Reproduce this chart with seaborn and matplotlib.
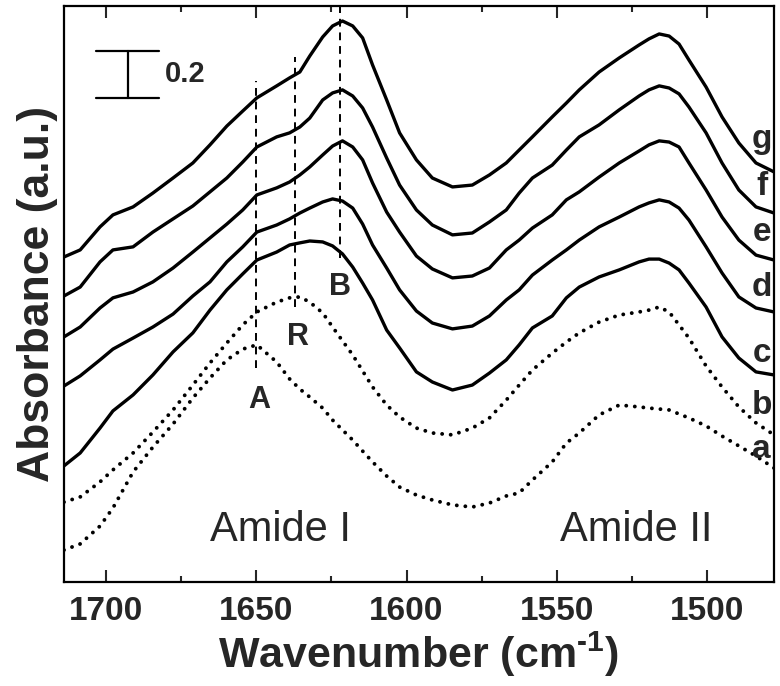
import pandas as pd
import seaborn as sns
import matplotlib.pyplot as plt
from matplotlib.ticker import MultipleLocator

# wavenumber grid (cm-1) shared by all spectra
wavenumber = [1714.0, 1708.6, 1702.0, 1697.7, 1691.0, 1684.4, 1677.7, 1671.1, 1665.4, 1659.8,
              1654.5, 1649.8, 1643.2, 1638.9, 1635.5, 1632.2, 1627.9, 1624.6, 1621.3, 1617.9,
              1614.6, 1611.3, 1606.6, 1602.3, 1596.7, 1591.4, 1584.7, 1578.1, 1572.4, 1566.8,
              1562.5, 1558.1, 1551.5, 1546.8, 1542.5, 1535.9, 1529.2, 1522.6, 1519.3, 1515.9,
              1512.6, 1509.3, 1506.0, 1500.3, 1495.0, 1489.4, 1483.7, 1477.7]

# absorbance (offset stacked), bottom to top
spec_a = [0.136, 0.162, 0.238, 0.315, 0.468, 0.574, 0.672, 0.783, 0.868, 0.945,
          0.991, 1.009, 0.936, 0.864, 0.821, 0.787, 0.740, 0.689, 0.647, 0.604,
          0.557, 0.511, 0.451, 0.404, 0.370, 0.349, 0.328, 0.319, 0.336, 0.366,
          0.379, 0.434, 0.511, 0.591, 0.634, 0.711, 0.753, 0.745, 0.740, 0.736,
          0.732, 0.715, 0.698, 0.664, 0.621, 0.579, 0.536, 0.485]
spec_b = [0.340, 0.362, 0.426, 0.477, 0.549, 0.638, 0.732, 0.838, 0.932, 1.017,
          1.094, 1.149, 1.191, 1.209, 1.213, 1.191, 1.145, 1.085, 1.026, 0.966,
          0.898, 0.830, 0.753, 0.702, 0.655, 0.634, 0.626, 0.655, 0.698, 0.774,
          0.838, 0.902, 0.974, 1.021, 1.060, 1.106, 1.136, 1.149, 1.157, 1.170,
          1.149, 1.094, 1.038, 0.919, 0.830, 0.745, 0.677, 0.626]
spec_c = [0.494, 0.549, 0.655, 0.728, 0.796, 0.881, 0.979, 1.060, 1.157, 1.243,
          1.311, 1.370, 1.404, 1.434, 1.443, 1.451, 1.447, 1.430, 1.396, 1.340,
          1.272, 1.200, 1.072, 0.996, 0.894, 0.851, 0.817, 0.838, 0.889, 0.945,
          1.009, 1.081, 1.132, 1.209, 1.255, 1.298, 1.328, 1.362, 1.374, 1.374,
          1.357, 1.328, 1.272, 1.170, 1.043, 0.953, 0.894, 0.881]
spec_d = [0.834, 0.877, 0.945, 0.991, 1.038, 1.085, 1.140, 1.217, 1.277, 1.362,
          1.426, 1.489, 1.519, 1.545, 1.570, 1.591, 1.617, 1.630, 1.621, 1.591,
          1.523, 1.434, 1.336, 1.243, 1.153, 1.102, 1.077, 1.089, 1.132, 1.200,
          1.243, 1.306, 1.370, 1.413, 1.455, 1.511, 1.553, 1.596, 1.613, 1.626,
          1.617, 1.591, 1.540, 1.426, 1.315, 1.213, 1.166, 1.149]
spec_e = [1.043, 1.085, 1.166, 1.209, 1.234, 1.277, 1.336, 1.404, 1.464, 1.523,
          1.583, 1.647, 1.677, 1.702, 1.732, 1.766, 1.817, 1.855, 1.877, 1.851,
          1.796, 1.698, 1.574, 1.489, 1.387, 1.332, 1.294, 1.302, 1.336, 1.413,
          1.455, 1.506, 1.562, 1.626, 1.660, 1.723, 1.783, 1.834, 1.860, 1.877,
          1.872, 1.851, 1.783, 1.668, 1.553, 1.455, 1.391, 1.370]
spec_f = [1.217, 1.255, 1.362, 1.413, 1.426, 1.489, 1.545, 1.600, 1.660, 1.719,
          1.787, 1.851, 1.894, 1.911, 1.936, 1.974, 2.051, 2.081, 2.094, 2.068,
          2.017, 1.936, 1.804, 1.689, 1.583, 1.519, 1.477, 1.485, 1.532, 1.583,
          1.655, 1.719, 1.774, 1.838, 1.894, 1.945, 2.009, 2.068, 2.094, 2.111,
          2.102, 2.077, 2.021, 1.911, 1.783, 1.668, 1.596, 1.570]
spec_g = [1.383, 1.413, 1.511, 1.562, 1.596, 1.655, 1.719, 1.783, 1.860, 1.940,
          2.004, 2.060, 2.111, 2.145, 2.170, 2.238, 2.319, 2.366, 2.387, 2.366,
          2.315, 2.200, 2.051, 1.911, 1.796, 1.719, 1.681, 1.689, 1.732, 1.783,
          1.838, 1.894, 1.979, 2.038, 2.094, 2.170, 2.230, 2.285, 2.311, 2.332,
          2.323, 2.289, 2.221, 2.106, 1.979, 1.868, 1.783, 1.745]

curve_names = ['a', 'b', 'c', 'd', 'e', 'f', 'g']
label_y = [0.562, 0.753, 0.974, 1.255, 1.485, 1.681, 1.881]

# marker lines A, R, B: position and vertical extent
band_names = ['A', 'R', 'B']
band_pos = [1650, 1637, 1622]
band_lo = [0.911, 1.170, 1.379]
band_hi = [2.132, 2.234, 2.451]
band_text_x = [1649, 1636, 1622]
band_text_y = [0.774, 1.043, 1.255]

df = pd.DataFrame({'wavenumber': wavenumber, 'a': spec_a, 'b': spec_b, 'c': spec_c,
                   'd': spec_d, 'e': spec_e, 'f': spec_f, 'g': spec_g})

sns.set_style('white')
plt.rcParams['font.family'] = ['Liberation Sans', 'DejaVu Sans']
plt.rcParams['mathtext.fontset'] = 'custom'
plt.rcParams['mathtext.rm'] = 'Liberation Sans:bold'
plt.rcParams['mathtext.bf'] = 'Liberation Sans:bold'

fig = plt.figure(figsize=(7.8, 6.86), dpi=100)
ax = fig.add_axes([0.082, 0.1516, 0.9103, 0.8397])

for name in curve_names:
    if name in ('a', 'b'):
        sns.lineplot(data=df, x='wavenumber', y=name, ax=ax, color='black',
                     lw=2.8, linestyle=(0, (0.01, 2.2)), dash_capstyle='round', sort=False)
    else:
        sns.lineplot(data=df, x='wavenumber', y=name, ax=ax, color='black',
                     lw=2.4, sort=False)

for pos, lo, hi in zip(band_pos, band_lo, band_hi):
    ax.plot([pos, pos], [lo, hi], color='black', lw=1.4, linestyle=(0, (4, 3)))

for name, x, y in zip(band_names, band_text_x, band_text_y):
    ax.text(x, y, name, ha='center', va='center', fontsize=22, fontweight='bold')

for name, y in zip(curve_names, label_y):
    ax.text(1481.8, y, name, ha='center', va='center', fontsize=24, fontweight='bold')

ax.text(1642, 0.221, 'Amide I', ha='center', va='center', fontsize=30)
ax.text(1523.5, 0.221, 'Amide II', ha='center', va='center', fontsize=30)

# 0.2 scale bar
ax.plot([1692.7, 1692.7], [2.06, 2.26], color='black', lw=1.6)
ax.plot([1703.3, 1682.4], [2.26, 2.26], color='black', lw=1.6)
ax.plot([1703.3, 1682.4], [2.06, 2.06], color='black', lw=1.6)
ax.text(1680.4, 2.16, '0.2', ha='left', va='center', fontsize=21, fontweight='bold')

ax.set_xlim(1714, 1477.7)
ax.set_ylim(0, 2.451)
ax.xaxis.set_major_locator(MultipleLocator(50))
ax.xaxis.set_minor_locator(MultipleLocator(25))
ax.set_yticks([])
ax.tick_params(axis='x', which='both', direction='in', top=True, bottom=True,
               width=1.5, labelsize=24, pad=10)
ax.tick_params(axis='x', which='major', length=8.5)
ax.tick_params(axis='x', which='minor', length=4.5)
for lab in ax.get_xticklabels():
    lab.set_fontweight('bold')
for sp in ax.spines.values():
    sp.set_linewidth(1.6)
    sp.set_color('black')

ax.set_xlabel('Wavenumber (cm$^{\\text{-1}}$)', fontsize=31, fontweight='bold', labelpad=2)
ax.set_ylabel('Absorbance (a.u.)', fontsize=32, fontweight='bold', labelpad=4)

fig.savefig('out.png', dpi=100)
